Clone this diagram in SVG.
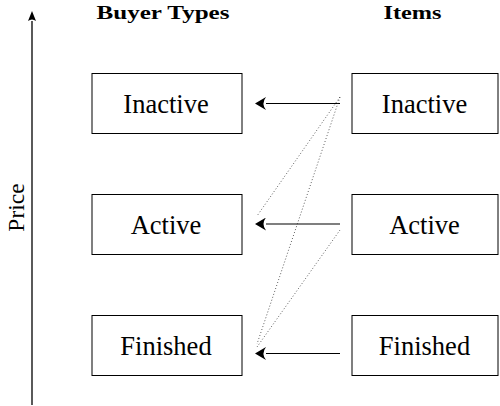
<svg xmlns="http://www.w3.org/2000/svg" width="500" height="406" viewBox="0 0 500 406">
  <style>
    .box { fill: #ffffff; stroke: #000000; stroke-width: 1; }
    .label { font-family: 'Liberation Serif', 'Times New Roman', serif; font-size: 26.5px; fill: #000000; text-anchor: middle; }
    .head { font-family: 'Liberation Serif', 'Times New Roman', serif; font-size: 18px; font-weight: bold; fill: #000000; text-anchor: middle; }
    .arrow { stroke: #000000; stroke-width: 1.2; fill: none; }
    .dotted { stroke: #222222; stroke-width: 0.8; stroke-dasharray: 0.9 2.2; fill: none; }
  </style>
  <defs>
    <!-- filled arrowhead; its base sits on the line end, the tip points onward -->
    <marker id="tip" viewBox="0 0 11 13" refX="0" refY="6.5" markerWidth="11" markerHeight="13" markerUnits="userSpaceOnUse" orient="auto">
      <path d="M0,0 Q5,6.5 0,13 L11,6.5 Z" fill="#000000"/>
    </marker>
    <marker id="axisTip" viewBox="0 0 10 8" refX="0" refY="4" markerWidth="10" markerHeight="8" markerUnits="userSpaceOnUse" orient="auto">
      <path d="M0,0 Q3,4 0,8 L10,4 Z" fill="#000000"/>
    </marker>
  </defs>
  <rect width="500" height="406" fill="#ffffff"/>

  <!-- price axis -->
  <g id="axis">
    <line x1="32" y1="405" x2="32" y2="21" stroke="#000000" stroke-width="1.3" marker-end="url(#axisTip)"/>
    <text class="label" style="font-size:23.5px" transform="translate(24,207.5) rotate(-90)">Price</text>
  </g>

  <!-- column headings -->
  <g id="headings">
    <text class="head" x="163" y="18.5" textLength="133" lengthAdjust="spacingAndGlyphs">Buyer Types</text>
    <text class="head" x="412.5" y="18.5" textLength="58" lengthAdjust="spacingAndGlyphs">Items</text>
  </g>

  <!-- buyer types -->
  <g id="buyer-inactive">
    <rect class="box" x="92" y="73.5" width="150" height="60"/>
    <text class="label" x="166" y="112.5">Inactive</text>
  </g>
  <g id="buyer-active">
    <rect class="box" x="92" y="194.5" width="150" height="60"/>
    <text class="label" x="166" y="233.5">Active</text>
  </g>
  <g id="buyer-finished">
    <rect class="box" x="92" y="315.5" width="150" height="60"/>
    <text class="label" x="166" y="354.5">Finished</text>
  </g>

  <!-- items -->
  <g id="item-inactive">
    <rect class="box" x="352" y="73.5" width="146" height="60"/>
    <text class="label" x="424.5" y="112.5">Inactive</text>
  </g>
  <g id="item-active">
    <rect class="box" x="352" y="194.5" width="146" height="60"/>
    <text class="label" x="424.5" y="233.5">Active</text>
  </g>
  <g id="item-finished">
    <rect class="box" x="352" y="315.5" width="146" height="60"/>
    <text class="label" x="424.5" y="354.5">Finished</text>
  </g>

  <!-- connectors -->
  <g id="connectors">
    <line class="arrow" x1="340" y1="103.5" x2="266" y2="103.5" marker-end="url(#tip)"/>
    <line class="arrow" x1="340" y1="224" x2="266" y2="224" marker-end="url(#tip)"/>
    <line class="arrow" x1="340" y1="353.5" x2="266" y2="353.5" marker-end="url(#tip)"/>
    <path class="dotted" d="M340,97 L257,216"/>
    <path class="dotted" d="M340,97 L257,344"/>
    <path class="dotted" d="M340,230 L257,347"/>
  </g>
</svg>
